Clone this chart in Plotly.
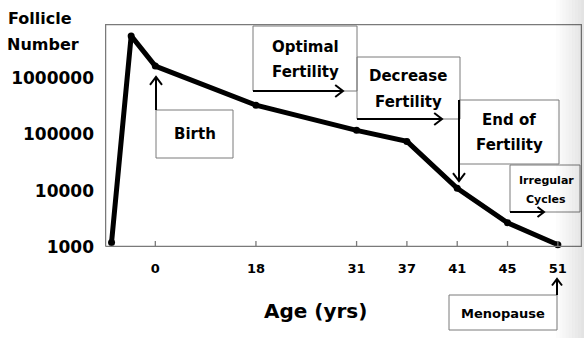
import plotly.graph_objects as go

# ---- data ----
age_labels = ["0", "18", "31", "37", "41", "45", "51"]
age_index = [0, 2, 4, 5, 6, 7, 8]            # category slots on the x axis
point_index = [-0.87, -0.48, 0, 2, 4, 5, 6, 7, 8]
follicles = [1200, 5600000, 1630000, 330000, 118000, 75000, 11000, 2700, 1100]
y_ticks = [1000, 10000, 100000, 1000000]
y_tick_labels = ["1000", "10000", "100000", "1000000"]

W, H = 584, 338
L, R, T, B = 105, 582, 24, 247
FONT = "DejaVu Sans"
X_RANGE = [-1.0, 8.48]
GRAY = "#7a7a7a"


def px(x):
    return (x - L) / (R - L)


def py(y):
    return (B - y) / (B - T)


fig = go.Figure()

# frame of the plot area, drawn on an overlay [0,1] x [0,1] axis pair
ex, ey = 0.6 / (R - L), 0.6 / (B - T)
fig.add_trace(go.Scatter(
    x=[ex, 1 - ex, 1 - ex, ex, ex], y=[ey, ey, 1 - ey, 1 - ey, ey],
    xaxis="x2", yaxis="y2", mode="lines",
    line=dict(color=GRAY, width=1.3), showlegend=False, hoverinfo="skip"))

# inside tick marks on the x axis
tx, ty = [], []
for xi in age_index:
    tx += [xi, xi, None]
    ty += [0, 6 / (B - T), None]
fig.add_trace(go.Scatter(
    x=tx, y=ty, xaxis="x", yaxis="y2", mode="lines",
    line=dict(color=GRAY, width=1.3), showlegend=False, hoverinfo="skip"))

fig.add_trace(go.Scatter(
    x=point_index, y=follicles, mode="lines+markers",
    line=dict(color="black", width=5),
    marker=dict(color="black", size=7),
    showlegend=False, hoverinfo="skip", cliponaxis=False,
))

shapes = []
annotations = []


def box(x0, y0, x1, y1):
    shapes.append(dict(type="rect", xref="paper", yref="paper",
                       x0=px(x0), x1=px(x1), y0=py(y1), y1=py(y0),
                       line=dict(color=GRAY, width=1), fillcolor="rgba(0,0,0,0)",
                       layer="above"))


def arrow(x0, y0, x1, y1, head=6):
    shapes.append(dict(type="line", xref="paper", yref="paper",
                       x0=px(x0), y0=py(y0), x1=px(x1), y1=py(y1),
                       line=dict(color="black", width=2), layer="above"))
    if x1 > x0:   # right
        p = [(x1 - head * 1.3, y1 - head), (x1, y1), (x1 - head * 1.3, y1 + head)]
    elif y1 < y0:  # up
        p = [(x1 - head, y1 + head * 1.3), (x1, y1), (x1 + head, y1 + head * 1.3)]
    else:          # down
        p = [(x1 - head, y1 - head * 1.3), (x1, y1), (x1 + head, y1 - head * 1.3)]
    path = "M {} {} L {} {} L {} {}".format(px(p[0][0]), py(p[0][1]), px(p[1][0]), py(p[1][1]),
                                             px(p[2][0]), py(p[2][1]))
    shapes.append(dict(type="path", xref="paper", yref="paper", path=path,
                       line=dict(color="black", width=2), layer="above"))


def text(s, x, y, size, anchor="center"):
    annotations.append(dict(text="<b>" + s + "</b>", xref="paper", yref="paper",
                            x=px(x), y=py(y), xanchor=anchor, yanchor="middle",
                            showarrow=False,
                            font=dict(family=FONT, size=size, color="black")))


# Birth
box(156, 110, 233, 158)
text("Birth", 195, 134, 15)
arrow(156, 110, 156, 77)
# Optimal Fertility
box(253, 26, 357, 91)
text("Optimal", 305, 47, 15)
text("Fertility", 305, 72, 15)
arrow(253, 91, 343, 91)
# Decrease Fertility
box(357, 57, 460, 119)
text("Decrease", 408, 76, 15)
text("Fertility", 408, 102, 15)
arrow(357, 119, 442, 119)
# End of Fertility
box(459, 100, 559, 164)
text("End of", 509, 120, 15)
text("Fertility", 509, 145, 15)
arrow(459, 100, 459, 181)
# Irregular Cycles
box(510, 165, 580, 212)
text("Irregular", 546, 180, 11)
text("Cycles", 546, 199, 11)
arrow(510, 212, 544, 212, head=5)
# Menopause
box(449, 295, 557, 330)
text("Menopause", 503, 313, 13)
arrow(557, 295, 557, 279, head=5)

# Axis titles
text("Follicle", 6, 19, 16, anchor="left")
text("Number", 5, 44, 16, anchor="left")
text("Age (yrs)", 315, 311, 20)

# scan shadow on right edge
for i in range(9):
    x0 = 556 + i * 3.2
    shapes.append(dict(type="rect", xref="paper", yref="paper",
                       x0=px(x0), x1=px(x0 + 3.3), y0=py(H), y1=py(0),
                       line=dict(width=0), fillcolor="black",
                       opacity=0.012 * (i + 1), layer="above"))

fig.update_layout(
    width=W, height=H,
    margin=dict(l=L, r=W - R, t=T, b=H - B, pad=0),
    paper_bgcolor="white", plot_bgcolor="white",
    shapes=shapes, annotations=annotations,
    xaxis=dict(range=X_RANGE, tickvals=age_index,
               ticktext=["<b>" + t + "</b>" for t in age_labels],
               tickfont=dict(family=FONT, size=13, color="black"),
               ticks="", showline=False,
               showgrid=False, zeroline=False, ticklabelstandoff=12),
    yaxis=dict(type="log", range=[3, 6.96], tickvals=y_ticks,
               ticktext=["<b>" + t + "</b>" for t in y_tick_labels],
               tickfont=dict(family=FONT, size=17, color="black"),
               ticks="", showline=False,
               showgrid=False, zeroline=False, ticklabelstandoff=10),
    xaxis2=dict(overlaying="x", range=[0, 1], visible=False, fixedrange=True),
    yaxis2=dict(overlaying="y", range=[0, 1], visible=False, fixedrange=True),
)

fig.write_html("out.html")
